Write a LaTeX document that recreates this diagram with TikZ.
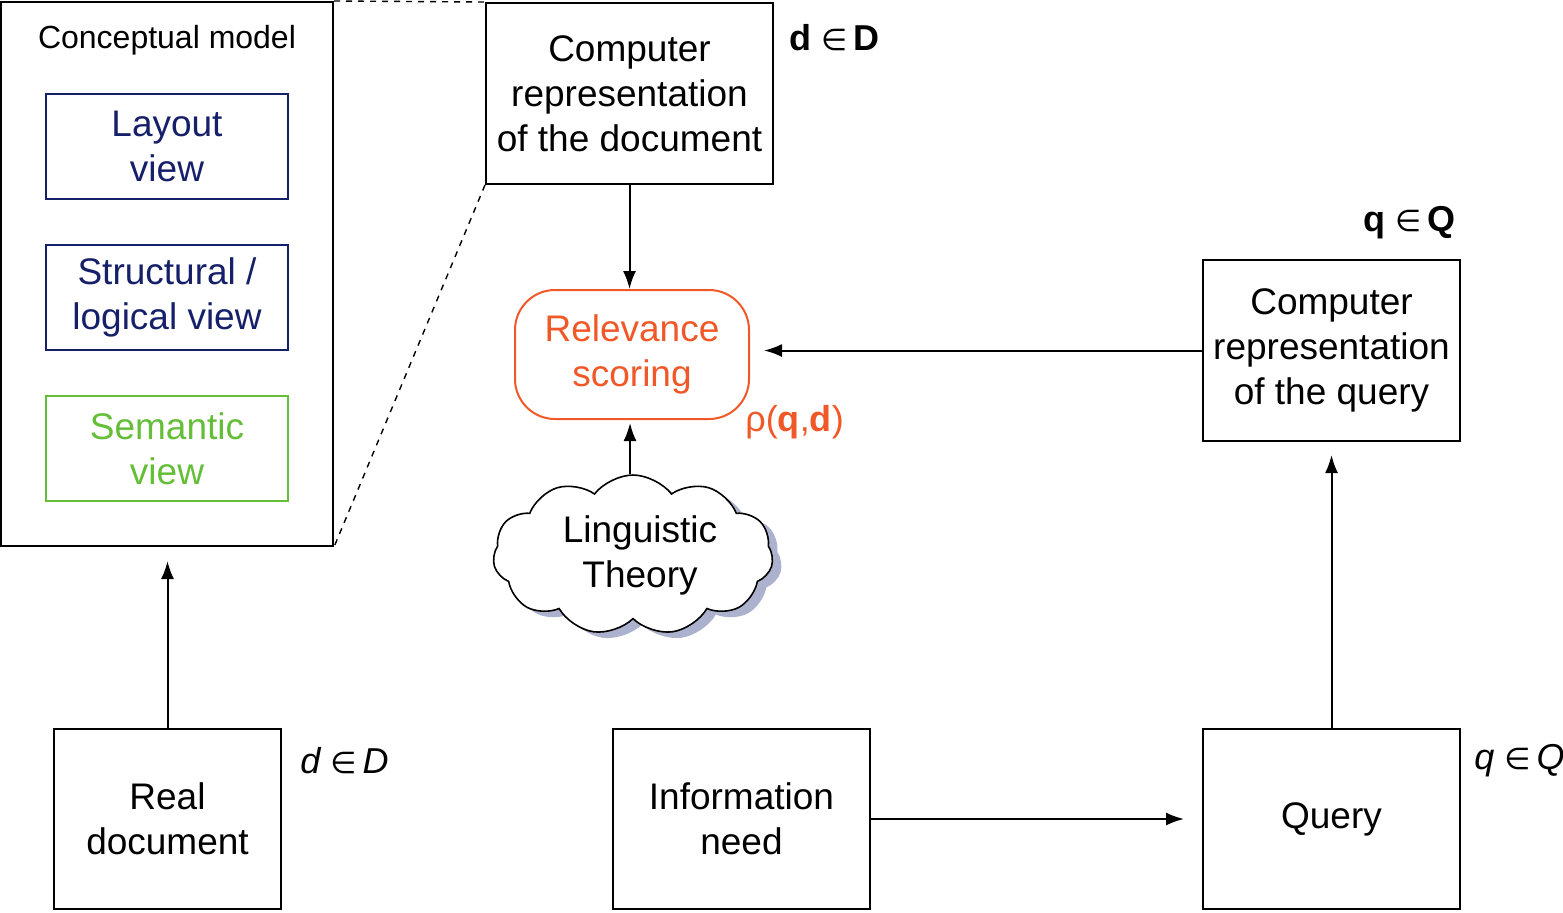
\documentclass[tikz,border=0pt]{standalone}
\usepackage{fontspec}
\setmainfont{Liberation Sans}
\newfontfamily\symfont{DejaVu Sans}
\usetikzlibrary{arrows.meta,shapes.symbols}
\definecolor{navyc}{RGB}{22,32,105}
\definecolor{greenc}{RGB}{100,190,55}
\definecolor{orangec}{RGB}{240,88,40}
\definecolor{shadowc}{RGB}{172,178,205}
\newcommand{\elem}{{\symfont\mdseries\fontsize{15}{17}\selectfont ∈}}
\tikzset{
  box/.style={draw=black,line width=1pt,inner sep=0pt,align=center,font=\fontsize{18.5}{22.5}\selectfont},
  viewbox/.style={draw,line width=1pt,inner sep=0pt,align=center,minimum width=121pt,minimum height=52.5pt,font=\fontsize{18.5}{22.5}\selectfont},
  arr/.style={-{Latex[length=9pt,width=6.5pt]},line width=1pt},
  lbl/.style={inner sep=0pt,font=\fontsize{18}{20}\selectfont}
}
\begin{document}
\begin{tikzpicture}[x=0.5pt,y=-0.5pt]
\useasboundingbox (0,0) rectangle (1563,912);
% conceptual model
\node[box,minimum width=166pt,minimum height=272pt] (cm) at (167,274) {};
\node[inner sep=0pt,font=\fontsize{16}{18}\selectfont] (cmt) at (167,40) {Conceptual model};
\node[viewbox,draw=navyc,text=navyc] (lay) at (167,146.5) {Layout\\view};
\node[viewbox,draw=navyc,text=navyc] (str) at (167,297.5) {Structural /\\logical view};
\node[viewbox,draw=greenc,text=greenc] (sem) at (167,448.5) {Semantic\\view};
% computer representation of document
\node[box,minimum width=143.5pt,minimum height=90.5pt] (docrep) at (629.5,93.5) {Computer\\representation\\of the document};
\node[lbl,anchor=west,font=\fontsize{18}{20}\selectfont\bfseries] (dD) at (789,38) {d \elem\,D};
\draw[dashed,line width=0.7pt] (cm.north east) -- (docrep.north west);
\draw[dashed,line width=0.7pt] (docrep.south west) -- (cm.south east);
% relevance scoring
\node[box,draw=orangec,text=orangec,rounded corners=20pt,minimum width=117pt,minimum height=64.5pt] (rel) at (632,354.5) {Relevance\\scoring};
\node[lbl,anchor=west,text=orangec] (rho) at (745,422) {ρ(\textbf{q},\textbf{d})};
% cloud
\node[cloud,cloud puffs=11,cloud puff arc=105,aspect=1.75,draw=none,fill=shadowc,minimum width=140pt,minimum height=80pt,inner sep=0pt] (cloudsh) at (642,561) {};
\node[cloud,cloud puffs=11,cloud puff arc=105,aspect=1.75,draw=black,line width=0.8pt,fill=white,minimum width=140pt,minimum height=80pt,inner sep=0pt] (cloud) at (633,555) {};
\node[inner sep=0pt,align=center,font=\fontsize{18.5}{22.5}\selectfont] (cloudt) at (640,555) {Linguistic\\Theory};
% query representation
\node[box,minimum width=128.5pt,minimum height=90.5pt] (qrep) at (1331.5,350.5) {Computer\\representation\\of the query};
\node[lbl,anchor=east,font=\fontsize{18}{20}\selectfont\bfseries] (qQ) at (1456,223) {q \elem\,Q};
% bottom row
\node[box,minimum width=113.5pt,minimum height=90pt] (real) at (167.5,819) {Real\\document};
\node[lbl,anchor=west,font=\fontsize{18}{20}\selectfont\itshape] (dDi) at (300,761) {d \elem\,D};
\node[box,minimum width=128.5pt,minimum height=90pt] (info) at (741.5,819) {Information\\need};
\node[box,minimum width=128.5pt,minimum height=90pt] (query) at (1331.5,819) {Query};
\node[lbl,anchor=west,font=\fontsize{18}{20}\selectfont\itshape] (qQi) at (1474,761) {q \elem\,Q};
% arrows
\draw[arr] (docrep.south) -- (docrep.south |- rel.north);
\draw[arr,shorten >=7pt] (qrep.west) -- (qrep.west -| rel.east);
\draw[arr,shorten >=2pt] (cloud.north -| 630,0) -- (630,419);
\draw[arr,shorten >=6.5pt] (query.north) -- (qrep.south);
\draw[arr,shorten >=9pt] (info.east) -- (query.west);
\draw[arr,shorten >=7pt] (real.north) -- (real.north |- cm.south);
\end{tikzpicture}
\end{document}
